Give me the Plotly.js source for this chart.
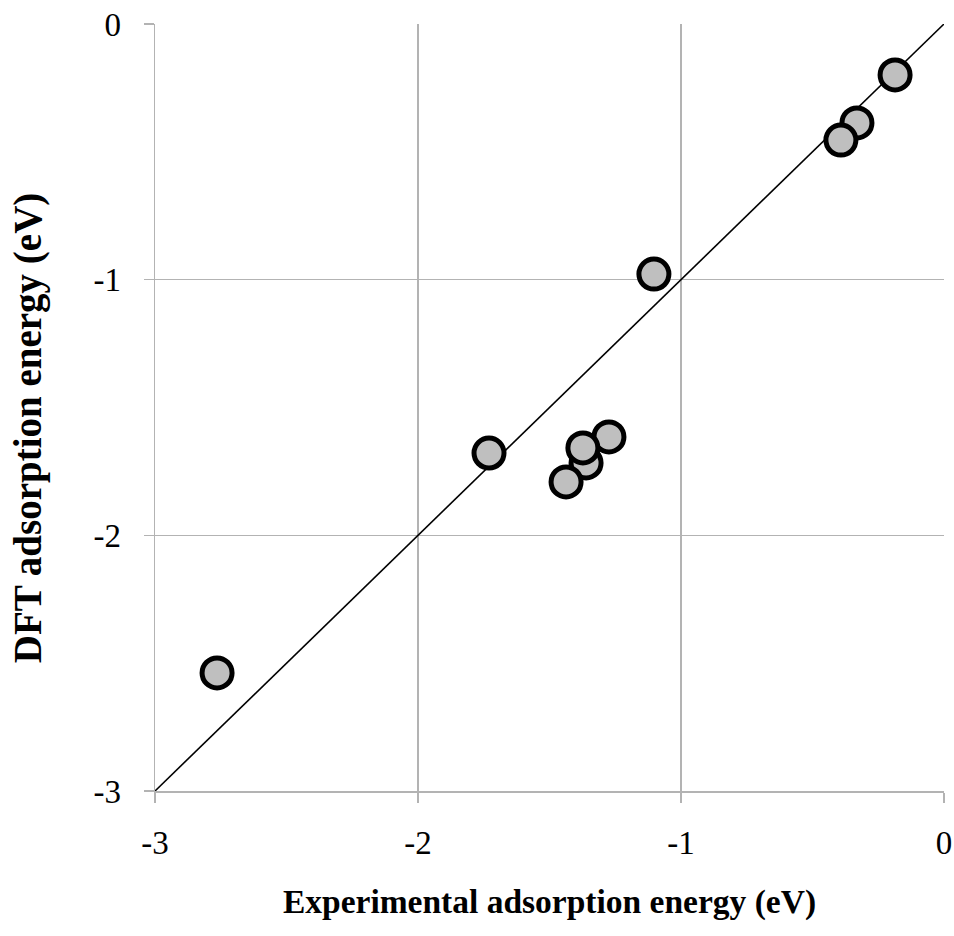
<!DOCTYPE html>
<html>
<head>
<meta charset="utf-8">
<script src="https://cdn.plot.ly/plotly-3.0.1.min.js"></script>
<style>html,body{margin:0;padding:0;background:#fff;}</style>
</head>
<body>
<div id="chart" style="width:954px;height:936px;"></div>
<script>
// Experimental vs DFT adsorption energies (eV), drawing order kept for overlaps
var expEnergy = [-0.186, -0.331, -0.392, -1.103, -1.730, -1.274, -1.361, -1.373, -1.437, -2.764];
var dftEnergy = [-0.199, -0.387, -0.454, -0.978, -1.678, -1.615, -1.717, -1.658, -1.791, -2.538];
var parityX = [-3, 0];
var parityY = [-3, 0];
var tickVals = [-3, -2, -1, 0];
var tickText = ['-3', '-2', '-1', '0'];
var xTitle = 'Experimental adsorption energy (eV)';
var yTitle = 'DFT adsorption energy (eV)';

var serif = 'Liberation Serif, Times New Roman, serif';

var traces = [
  {
    x: parityX, y: parityY, type: 'scatter', mode: 'lines',
    line: {color: '#000000', width: 1.6},
    hoverinfo: 'skip', showlegend: false
  },
  {
    x: expEnergy, y: dftEnergy, type: 'scatter', mode: 'markers',
    marker: {size: 30, color: '#bfbfbf', line: {color: '#000000', width: 5}},
    showlegend: false
  }
];

var axisCommon = {
  range: [-3, 0],
  tickvals: tickVals,
  ticktext: tickText,
  showgrid: true,
  gridcolor: '#b3b3b3',
  gridwidth: 1.5,
  zeroline: false,
  showline: true,
  linecolor: '#b3b3b3',
  linewidth: 1.5,
  ticks: 'outside',
  ticklen: 10,
  tickwidth: 1.5,
  tickcolor: '#b3b3b3',
  tickfont: {family: serif, size: 33, color: '#000000'},
  fixedrange: true
};

var layout = {
  width: 954, height: 936,
  margin: {l: 155, r: 10, t: 24, b: 145},
  paper_bgcolor: '#ffffff',
  plot_bgcolor: '#ffffff',
  showlegend: false,
  xaxis: Object.assign({}, axisCommon, {
    ticklabelstandoff: 12,
    title: {text: '<b>' + xTitle + '</b>', font: {family: serif, size: 33.5, color: '#000000'}, standoff: 29}
  }),
  yaxis: Object.assign({}, axisCommon, {
    ticklabelstandoff: 16
  }),
  annotations: [{
    text: '<b>' + yTitle + '</b>',
    xref: 'paper', yref: 'paper',
    x: -0.16, y: 0.474,
    xanchor: 'center', yanchor: 'middle',
    textangle: -90, showarrow: false,
    font: {family: serif, size: 39, color: '#000000'}
  }]
};

Plotly.newPlot('chart', traces, layout, {displayModeBar: false, staticPlot: true});
</script>
</body>
</html>
